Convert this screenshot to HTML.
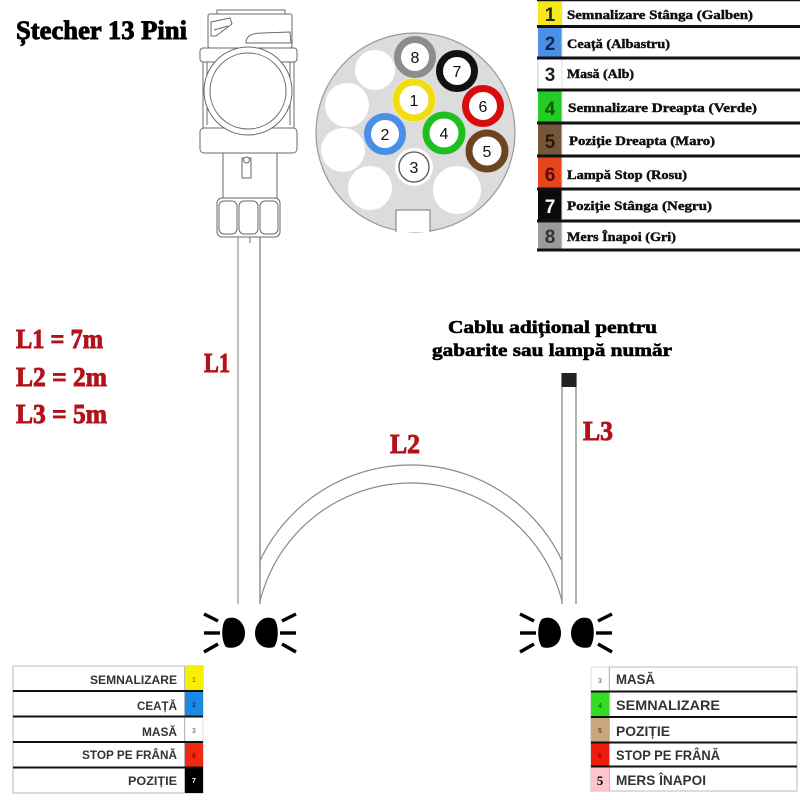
<!DOCTYPE html>
<html><head><meta charset="utf-8">
<style>
html,body{margin:0;padding:0;background:#fff;}
body{width:800px;height:800px;overflow:hidden;}
svg{display:block;}
.serif{font-family:"Liberation Serif","Noto Serif CJK SC",serif;font-weight:bold;}
.sans{font-family:"Liberation Sans","Noto Sans CJK SC",sans-serif;font-weight:bold;}
</style></head>
<body>
<svg width="800" height="800" viewBox="0 0 800 800" xmlns="http://www.w3.org/2000/svg">
<defs>
  <clipPath id="arcclip"><rect x="260" y="0" width="302" height="604"/></clipPath>
</defs>
<rect width="800" height="800" fill="#fff"/>

<!-- Title -->
<text class="serif" x="16" y="39" font-size="26" fill="#000" stroke="#000" stroke-width="0.9" textLength="171" lengthAdjust="spacingAndGlyphs">Ștecher 13 Pini</text>

<!-- Lengths -->
<g class="serif" fill="#b3121a" stroke="#b3121a" stroke-width="0.9" font-size="27">
<text x="16" y="348" textLength="87" lengthAdjust="spacingAndGlyphs">L1 = 7m</text>
<text x="16" y="386" textLength="91" lengthAdjust="spacingAndGlyphs">L2 = 2m</text>
<text x="16" y="423" textLength="91" lengthAdjust="spacingAndGlyphs">L3 = 5m</text>
<text x="204" y="372" textLength="26" lengthAdjust="spacingAndGlyphs">L1</text>
<text x="390" y="453" textLength="30" lengthAdjust="spacingAndGlyphs">L2</text>
<text x="583" y="440" textLength="30" lengthAdjust="spacingAndGlyphs">L3</text>
</g>

<!-- Extra cable caption -->
<g class="serif" fill="#000" stroke="#000" stroke-width="0.6" font-size="18">
<text x="448" y="333" textLength="209" lengthAdjust="spacingAndGlyphs">Cablu adițional pentru</text>
<text x="432" y="356" textLength="240" lengthAdjust="spacingAndGlyphs">gabarite sau lampă număr</text>
</g>

<!-- Plug body -->
<g fill="#fff" stroke="#6a6a6a" stroke-width="1">
  <rect x="217" y="10" width="68" height="5"/>
  <rect x="208" y="14" width="84" height="34" rx="2"/>
  <path d="M211,22 L230,18 L232,24 L216,36 L211,36 Z" fill="none"/>
  <path d="M214,30 L228,26" fill="none"/>
  <path d="M246,43 C246,36 252,33 262,33 L290,32 L291,43 Z" fill="none"/>
  <rect x="200" y="48" width="97" height="14" rx="3"/>
  <rect x="203" y="62" width="91" height="66"/>
  <line x1="207" y1="62" x2="207" y2="125"/>
  <line x1="290" y1="62" x2="290" y2="125"/>
  <rect x="200" y="128" width="97" height="25" rx="4"/>
  <circle cx="248" cy="91" r="44"/>
  <circle cx="248" cy="91" r="38"/>
  <rect x="223" y="153" width="54" height="45"/>
  <rect x="242" y="158" width="9" height="20"/>
  <circle cx="246.5" cy="160" r="3"/>
  <rect x="217" y="198" width="63" height="39" rx="5"/>
  <rect x="219" y="201" width="18" height="33" rx="5"/>
  <rect x="239" y="201" width="19" height="33" rx="5"/>
  <rect x="260" y="201" width="18" height="33" rx="5"/>
  <line x1="238" y1="237" x2="238" y2="243"/>
  <line x1="250" y1="237" x2="250" y2="243"/>
  <line x1="260" y1="237" x2="260" y2="243"/>
</g>

<!-- Plug face -->
<circle cx="415.5" cy="132.5" r="99.5" fill="#dcdcdc" stroke="#9a9a9a" stroke-width="1.2"/>
<path d="M396,232 L396,210 L430,210 L430,232" fill="#fff" stroke="#777" stroke-width="1"/>
<g fill="#fff">
  <circle cx="375" cy="70" r="20"/>
  <circle cx="347" cy="105" r="22"/>
  <circle cx="343" cy="150" r="22"/>
  <circle cx="370" cy="188" r="22"/>
  <circle cx="457" cy="190" r="24"/>
</g>
<g fill="#fff" stroke-width="7">
  <circle cx="414" cy="100" r="22" fill="#f4f4e0" stroke="none"/>
  <circle cx="415" cy="57" r="17.5" stroke="#8c8c8c"/>
  <circle cx="457" cy="71" r="17.5" stroke="#111"/>
  <circle cx="483" cy="106" r="17.5" stroke="#d80c0c"/>
  <circle cx="487" cy="151" r="18" stroke="#6b4522"/>
  <circle cx="414" cy="100" r="18" stroke="#f2de10"/>
  <circle cx="385" cy="134" r="17.5" stroke="#4a8fe6"/>
  <circle cx="444" cy="133" r="18" stroke="#1fbf1f"/>
  <circle cx="414" cy="167" r="19" fill="#fff" stroke="none"/>
  <circle cx="414" cy="167" r="15" stroke="#555" stroke-width="1.3"/>
</g>
<g class="sans" font-size="16" fill="#111" text-anchor="middle" style="font-weight:normal">
  <text x="415" y="63">8</text>
  <text x="457" y="77">7</text>
  <text x="483" y="112">6</text>
  <text x="487" y="157">5</text>
  <text x="414" y="106">1</text>
  <text x="385" y="140">2</text>
  <text x="444" y="139">4</text>
  <text x="414" y="173">3</text>
</g>

<!-- Legend top-right -->
<g>
  <rect x="538" y="0" width="24" height="26" fill="#f7e81a"/>
  <rect x="538" y="26" width="24" height="32" fill="#4a90e8"/>
  <rect x="538" y="58" width="24" height="32" fill="#fff" stroke="#ccc"/>
  <rect x="538" y="90" width="24" height="33" fill="#22cc22"/>
  <rect x="538" y="123" width="24" height="33" fill="#76573a"/>
  <rect x="538" y="156" width="24" height="33" fill="#e6451c"/>
  <rect x="538" y="189" width="24" height="32" fill="#0a0a0a"/>
  <rect x="538" y="221" width="24" height="29" fill="#9a9a9a"/>
  <line x1="562" y1="0" x2="562" y2="250" stroke="#ddd" stroke-width="1"/>
  <g stroke="#111" stroke-width="3">
    <line x1="537" y1="26.5" x2="800" y2="26.5"/>
    <line x1="537" y1="58" x2="800" y2="58"/>
    <line x1="537" y1="90" x2="800" y2="90"/>
    <line x1="537" y1="123" x2="800" y2="123"/>
    <line x1="537" y1="156" x2="800" y2="156"/>
    <line x1="537" y1="189" x2="800" y2="189"/>
    <line x1="537" y1="221" x2="800" y2="221"/>
    <line x1="537" y1="250" x2="800" y2="250"/>
  </g>
  <line x1="537" y1="0.5" x2="800" y2="0.5" stroke="#111" stroke-width="1.5"/>
  <g class="sans" font-size="19" text-anchor="middle">
    <text x="550" y="21" fill="#222">1</text>
    <text x="550" y="50" fill="#0d2a55">2</text>
    <text x="550" y="81" fill="#222">3</text>
    <text x="550" y="115" fill="#0d5a0d">4</text>
    <text x="550" y="148" fill="#2a1a0a">5</text>
    <text x="550" y="181" fill="#5a0a00">6</text>
    <text x="550" y="213" fill="#fff">7</text>
    <text x="550" y="243" fill="#333">8</text>
  </g>
  <g class="serif" font-size="13" fill="#111" stroke="#111" stroke-width="0.45">
    <text x="567" y="19" textLength="186" lengthAdjust="spacingAndGlyphs">Semnalizare Stânga (Galben)</text>
    <text x="567" y="48" textLength="103" lengthAdjust="spacingAndGlyphs">Ceață (Albastru)</text>
    <text x="567" y="78" textLength="67" lengthAdjust="spacingAndGlyphs">Masă (Alb)</text>
    <text x="568" y="112" textLength="189" lengthAdjust="spacingAndGlyphs">Semnalizare Dreapta (Verde)</text>
    <text x="569" y="145" textLength="146" lengthAdjust="spacingAndGlyphs">Poziție Dreapta (Maro)</text>
    <text x="567" y="179" textLength="120" lengthAdjust="spacingAndGlyphs">Lampă Stop (Rosu)</text>
    <text x="567" y="210" textLength="145" lengthAdjust="spacingAndGlyphs">Poziție Stânga (Negru)</text>
    <text x="567" y="241" textLength="109" lengthAdjust="spacingAndGlyphs">Mers Înapoi (Gri)</text>
  </g>
</g>

<!-- Cable L1 -->
<g stroke="#9a9a9a" stroke-width="1.3" fill="none">
  <line x1="238" y1="237" x2="238" y2="604"/>
  <line x1="260" y1="237" x2="260" y2="604" stroke="#808080"/>
</g>
<!-- Cable L2 arc -->
<g stroke="#8a8a8a" stroke-width="1.2" fill="none" clip-path="url(#arcclip)">
  <circle cx="411" cy="632" r="167"/>
  <circle cx="411" cy="638.5" r="155.5"/>
</g>
<!-- Cable L3 -->
<g stroke="#8a8a8a" stroke-width="1.3" fill="none">
  <line x1="562" y1="373" x2="562" y2="604"/>
  <line x1="576" y1="373" x2="576" y2="604"/>
</g>
<rect x="561.5" y="373" width="15" height="14" fill="#222"/>

<!-- Lamps -->
<g>
  <g stroke="#000" stroke-width="3.4">
    <line x1="204" y1="614" x2="218" y2="621"/>
    <line x1="204" y1="633" x2="220" y2="633"/>
    <line x1="204" y1="652" x2="218" y2="644"/>
    <line x1="296" y1="614" x2="282" y2="621"/>
    <line x1="296" y1="633" x2="280" y2="633"/>
    <line x1="296" y1="652" x2="282" y2="644"/>
  </g>
  <path d="M226,619 C236,614 245,623 245,633 C245,644 236,650 226,647 C221,641 221,624 226,619 Z" fill="#000"/>
  <path d="M274,619 C264,614 255,623 255,633 C255,644 264,650 274,647 C279,641 279,624 274,619 Z" fill="#000"/>
</g>
<g transform="translate(316,0)">
  <g stroke="#000" stroke-width="3.4">
    <line x1="204" y1="614" x2="218" y2="621"/>
    <line x1="204" y1="633" x2="220" y2="633"/>
    <line x1="204" y1="652" x2="218" y2="644"/>
    <line x1="296" y1="614" x2="282" y2="621"/>
    <line x1="296" y1="633" x2="280" y2="633"/>
    <line x1="296" y1="652" x2="282" y2="644"/>
  </g>
  <path d="M226,619 C236,614 245,623 245,633 C245,644 236,650 226,647 C221,641 221,624 226,619 Z" fill="#000"/>
  <path d="M274,619 C264,614 255,623 255,633 C255,644 264,650 274,647 C279,641 279,624 274,619 Z" fill="#000"/>
</g>

<!-- Left bottom table -->
<g>
  <rect x="13" y="666" width="190" height="127" fill="#fff" stroke="#bbb" stroke-width="1"/>
  <rect x="185" y="666" width="18" height="25" fill="#f7f000"/>
  <rect x="185" y="691" width="18" height="25" fill="#1e88e5"/>
  <rect x="185" y="716" width="18" height="26" fill="#fff" stroke="#ddd"/>
  <rect x="185" y="742" width="18" height="25" fill="#f02a10"/>
  <rect x="185" y="767" width="18" height="26" fill="#000"/>
  <line x1="184.5" y1="666" x2="184.5" y2="793" stroke="#bbb"/>
  <g stroke="#111" stroke-width="2">
    <line x1="13" y1="691" x2="203" y2="691"/>
    <line x1="13" y1="716.5" x2="203" y2="716.5"/>
    <line x1="13" y1="742" x2="203" y2="742"/>
    <line x1="13" y1="767.5" x2="203" y2="767.5"/>
  </g>
  <g class="sans" font-size="12" fill="#333">
    <text x="90" y="684" textLength="87" lengthAdjust="spacingAndGlyphs">SEMNALIZARE</text>
    <text x="137" y="710" textLength="40" lengthAdjust="spacingAndGlyphs">CEAȚĂ</text>
    <text x="142" y="736" textLength="35" lengthAdjust="spacingAndGlyphs">MASĂ</text>
    <text x="82" y="759" textLength="95" lengthAdjust="spacingAndGlyphs">STOP PE FRÂNĂ</text>
    <text x="128" y="785" textLength="49" lengthAdjust="spacingAndGlyphs">POZIȚIE</text>
  </g>
  <g class="sans" font-size="7" text-anchor="middle">
    <text x="194" y="682" fill="#c08000">1</text>
    <text x="194" y="707" fill="#0a3a8a">2</text>
    <text x="194" y="733" fill="#888">3</text>
    <text x="194" y="758" fill="#900">6</text>
    <text x="194" y="783" fill="#fff">7</text>
  </g>
</g>

<!-- Right bottom table -->
<g>
  <rect x="591" y="667" width="206" height="124" fill="#fff" stroke="#bbb" stroke-width="1"/>
  <rect x="591" y="667" width="18" height="25" fill="#fff" stroke="#ddd"/>
  <rect x="591" y="692" width="18" height="25" fill="#33dd22"/>
  <rect x="591" y="717" width="18" height="25" fill="#c9a77c"/>
  <rect x="591" y="742" width="18" height="24" fill="#ee1c10"/>
  <rect x="591" y="766" width="18" height="25" fill="#ffc4cc"/>
  <line x1="609.5" y1="667" x2="609.5" y2="791" stroke="#bbb"/>
  <g stroke="#111" stroke-width="2">
    <line x1="591" y1="691.5" x2="797" y2="691.5"/>
    <line x1="591" y1="717" x2="797" y2="717"/>
    <line x1="591" y1="742.5" x2="797" y2="742.5"/>
    <line x1="591" y1="766.5" x2="797" y2="766.5"/>
  </g>
  <g class="sans" font-size="14" fill="#333">
    <text x="616" y="684" textLength="39" lengthAdjust="spacingAndGlyphs">MASĂ</text>
    <text x="616" y="710" textLength="104" lengthAdjust="spacingAndGlyphs">SEMNALIZARE</text>
    <text x="616" y="736" textLength="54" lengthAdjust="spacingAndGlyphs">POZIȚIE</text>
    <text x="616" y="760" textLength="104" lengthAdjust="spacingAndGlyphs">STOP PE FRÂNĂ</text>
    <text x="616" y="785" textLength="90" lengthAdjust="spacingAndGlyphs">MERS ÎNAPOI</text>
  </g>
  <g class="sans" font-size="7" text-anchor="middle">
    <text x="600" y="683" fill="#888">3</text>
    <text x="600" y="708" fill="#1a7a10">4</text>
    <text x="600" y="733" fill="#6a4a20">5</text>
    <text x="600" y="758" fill="#900">6</text>
  </g>
  <text class="serif" x="600" y="785" font-size="13" fill="#000" text-anchor="middle">5</text>
</g>

</svg>
</body></html>
